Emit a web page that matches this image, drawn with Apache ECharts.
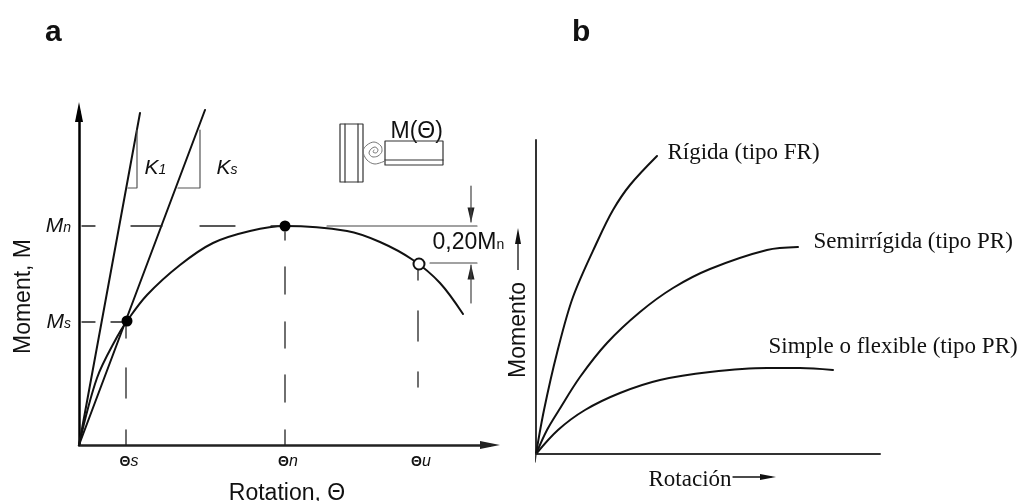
<!DOCTYPE html>
<html><head><meta charset="utf-8">
<style>html,body{margin:0;padding:0;background:#fff}#c{width:1021px;height:501px}</style>
<script src="https://cdn.jsdelivr.net/npm/echarts@6/dist/echarts.min.js"></script>
</head><body><div id="c"></div>
<script>
// ---- panel a (connection curve)
const curveA = [[0,0],[18,67],[38,108],[48,124],[68,150],[101,180],[134,202],[171,214],[206,219],[268,214],[301,203],[334,185],[361,162],[384,131]];
const k1Line = [[0,0],[61,332]];
const ksLine = [[0,0],[126,335]];
const k1Tri = [[49,257],[58,257],[58,315]];
const ksTri = [[99,257],[121,257],[121,315]];
const guideSegments = [
  [[3,219],[16,219]],[[52,219],[83,219]],[[121,219],[156,219]],[[192,219],[203,219]],
  [[3,123],[16,123]],[[32,123],[43,123]],
  [[47,0],[47,15]],[[47,47],[47,77]],[[47,107],[47,122]],
  [[206,0],[206,15]],[[206,43],[206,70]],[[206,97],[206,123]],[[206,151],[206,178]],[[206,205],[206,213]],
  [[339,58],[339,73]],[[339,104],[339,134]],[[339,165],[339,175]]
];
const dimSegments = [
  [[248,219],[398,219]],[[351,182],[398,182]],[[392,259],[392,223]],[[392,142],[392,180]]
];
const dimHeads = [[392,230,180],[392,173,0]];
const columnRect = [[261,263],[284,263],[284,321],[261,321],[261,263]];
const columnInner = [[[266,263],[266,321]],[[279,263],[279,321]]];
const beamRect = [[306,280],[364,280],[364,304],[306,304],[306,280]];
const beamInner = [[306,285],[364,285]];
const spiral = [[306,284],[296,281],[288,285],[284,294],[288,300],[295,303],[302,299],[303,294],[299,289],[294,288],[290,292],[292,296],[296,298],[299,295],[297,292],[294,293],[295,295]];
const solidPoints = [[48,124],[206,219]];
const openPoints = [[340,181]];
const thetaTicks = [47,206,339];
const thetaLabels = ['{t|Θ}{i|s}','{t|Θ}{i|n}','{t|Θ}{i|u}'];
const momentTicks = [123,219];
const momentLabels = ['{m|M}{s|s}','{m|M}{s|n}'];
const notesA = [[65,277,'{m|K}{s|1}'],[137,277,'{m|K}{s|s}'],[311,313,'{p|M(Θ)}'],[353,202,'{p|0,20M}{q|n}']];
// ---- panel b (connection types)
const rigid = [[0,0],[8,44],[21,101],[37,157],[62,214],[77,244],[94,269],[121,298]];
const semi = [[0,0],[11,24],[23,44],[44,77],[71,111],[104,142],[137,166],[174,185],[231,204],[262,207]];
const simple = [[0,0],[22,24],[49,44],[84,61],[124,74],[174,82],[231,86],[264,86],[297,84]];
const axisTail = [[0,0],[-1,-8]];
const notesB = [[131,301,'Rígida (tipo FR)'],[277,212,'Semirrígida (tipo PR)'],[232,107,'Simple o flexible (tipo PR)'],[112,-26,'Rotación']];
const rotArrow = [[197,-23],[235,-23]];
const rotHead = [[232,-23,-90]];
const momShaft = [[-18,202,0]];
const momHead = [[-18,218,0]];

const SANS = '"Liberation Sans",Arial,sans-serif', SERIF = '"Liberation Serif","Times New Roman",serif';
const INK = '#111', GREY = '#555', CURVE_SMOOTH = 0.33;
const line = (data, g, width, color, smooth) => ({type:'line', data, xAxisIndex:g, yAxisIndex:g, clip:false, showSymbol:false, silent:true,
  smooth: smooth || false, lineStyle:{color:color||INK, width:width||1.5, cap:'round'}, itemStyle:{opacity:0}});
const heads = (data, g, size, color, symbol) => ({type:'scatter', xAxisIndex:g, yAxisIndex:g, clip:false, silent:true, symbol:symbol||'triangle', symbolSize:size,
  data:data.map(d=>({value:[d[0],d[1]], symbolRotate:d[2]})), itemStyle:{color:color||INK, opacity:1}});
const dots = (data, size, fill, stroke) => ({type:'scatter', data, xAxisIndex:0, yAxisIndex:0, symbolSize:size, clip:false, silent:true, z:5,
  itemStyle:{color:fill, opacity:1, borderColor:stroke, borderWidth:stroke?2:0}});
const TXT = '#111';
const richA = {
  m:{fontFamily:SANS,fontStyle:'italic',fontSize:21,color:TXT},
  s:{fontFamily:SANS,fontStyle:'italic',fontSize:14,color:TXT,padding:[5,0,0,0]},
  p:{fontFamily:SANS,fontSize:23,color:TXT},
  q:{fontFamily:SANS,fontSize:14,color:TXT,padding:[5,0,0,0]},
  t:{fontFamily:SANS,fontSize:14,fontWeight:'bold',color:TXT,padding:[0,0,0,6]},
  i:{fontFamily:SANS,fontStyle:'italic',fontSize:16,color:TXT}
};
const notes = (data, g, labelStyle) => ({type:'scatter', xAxisIndex:g, yAxisIndex:g, clip:false, silent:true, symbolSize:1, itemStyle:{color:'transparent',opacity:1},
  data:data.map(d=>({value:[d[0],d[1]], label:{show:true, position:'right', distance:0, formatter:d[2], ...labelStyle}}))});

const series = [
  line(curveA,0,2,INK,CURVE_SMOOTH), line(k1Line,0,2), line(ksLine,0,2),
  line(k1Tri,0,1.2,GREY), line(ksTri,0,1.2,GREY),
  ...guideSegments.map(s=>line(s,0,1.3,'#222')),
  ...dimSegments.map(s=>line(s,0,1.2,'#444')),
  heads(dimHeads,0,[7,15],'#222'),
  line(columnRect,0,1.2,'#333'), ...columnInner.map(s=>line(s,0,1.2,'#333')),
  line(beamRect,0,1.2,'#333'), line(beamInner,0,1.2,'#333'),
  line(spiral,0,1,'#777',0.33),
  dots(solidPoints,11,'#000'), dots(openPoints,11,'#fff','#111'),
  notes(notesA,0,{rich:richA}),
  line(rigid,1,2,INK,CURVE_SMOOTH), line(semi,1,2,INK,CURVE_SMOOTH), line(simple,1,2,INK,CURVE_SMOOTH),
  line(axisTail,1,1.5,'#333'),
  line(rotArrow,1,1.3), heads(rotHead,1,[6,16]),
  heads(momShaft,1,[1.3,36],INK,'rect'), heads(momHead,1,[6,16]),
  notes(notesB,1,{fontFamily:SERIF,fontSize:23,color:TXT})
];

const option = {
  animation:false, backgroundColor:'#fff',
  title:[
    {text:'a',left:40,top:13,textStyle:{fontFamily:SANS,fontWeight:'bold',fontSize:30,color:'#111'}},
    {text:'b',left:567,top:13,textStyle:{fontFamily:SANS,fontWeight:'bold',fontSize:30,color:'#111'}}
  ],
  grid:[
    {left:79,top:112,width:411,height:333,outerBoundsMode:'none'},
    {left:536,top:140,width:344,height:314,outerBoundsMode:'none'}
  ],
  xAxis:[
    {type:'value',gridIndex:0,min:0,max:411,splitLine:{show:false},axisTick:{show:false},
     axisLine:{lineStyle:{color:'#222',width:2.5},symbol:['none','triangle'],symbolSize:[8,20]},
     axisLabel:{customValues:thetaTicks,margin:9,rich:richA,formatter:v=>thetaLabels[thetaTicks.indexOf(v)]||''},
     name:'Rotation, Θ',nameLocation:'middle',nameGap:37,nameTextStyle:{fontFamily:SANS,fontSize:23,color:TXT,padding:[0,0,0,5]}},
    {type:'value',gridIndex:1,min:0,max:344,splitLine:{show:false},axisTick:{show:false},axisLabel:{show:false},
     axisLine:{lineStyle:{color:'#333',width:2}}}
  ],
  yAxis:[
    {type:'value',gridIndex:0,min:0,max:333,splitLine:{show:false},axisTick:{show:false},
     axisLine:{lineStyle:{color:'#000',width:2.5},symbol:['none','triangle'],symbolSize:[8,20]},
     axisLabel:{customValues:momentTicks,margin:8,rich:richA,formatter:v=>momentLabels[momentTicks.indexOf(v)]||''},
     name:'Moment, M',nameLocation:'middle',nameGap:44,nameRotate:90,nameTextStyle:{fontFamily:SANS,fontSize:23,color:TXT,padding:[0,36,0,0]}},
    {type:'value',gridIndex:1,min:0,max:314,splitLine:{show:false},axisTick:{show:false},axisLabel:{show:false},
     axisLine:{lineStyle:{color:'#333',width:2}},
     name:'Momento',nameLocation:'middle',nameGap:6,nameRotate:90,nameTextStyle:{fontFamily:SANS,fontSize:23,color:TXT,padding:[0,66,0,0]}}
  ],
  series
};
echarts.init(document.getElementById('c'),null,{renderer:'canvas'}).setOption(option);
</script></body></html>
